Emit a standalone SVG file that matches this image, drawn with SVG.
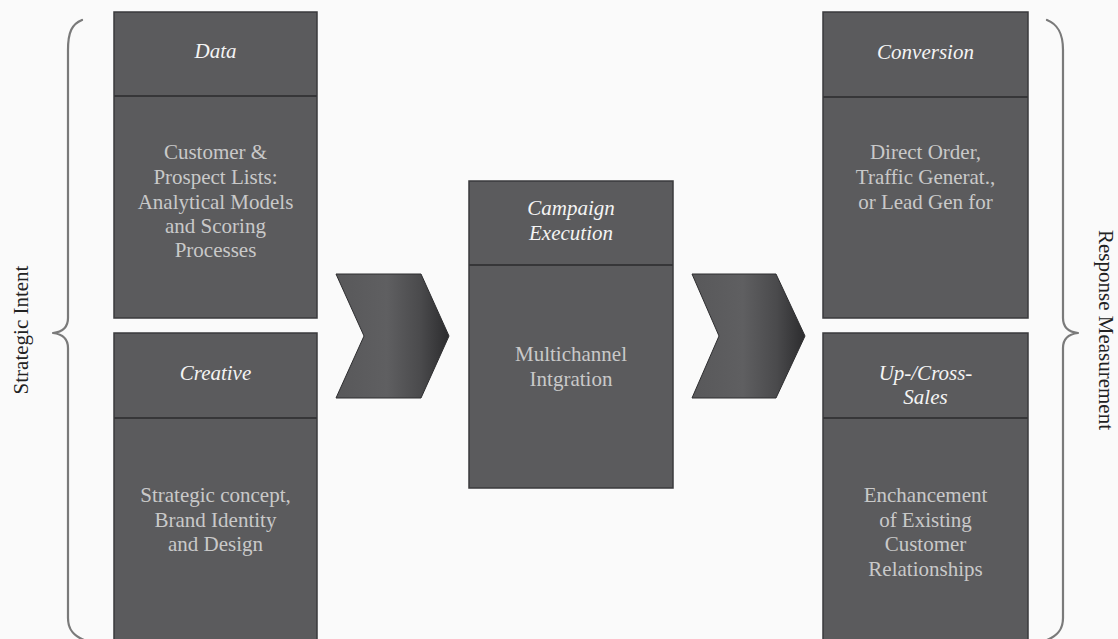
<svg xmlns="http://www.w3.org/2000/svg" width="1118" height="639" viewBox="0 0 1118 639">
  <style>
    .box { fill: #5b5b5d; stroke: #3a3a3c; stroke-width: 1.5; }
    .div { stroke: #363638; stroke-width: 2; }
    .head { font-family: "Liberation Serif", serif; font-style: italic; font-size: 21px; fill: #f4f4f4; text-anchor: middle; }
    .body { font-family: "Liberation Serif", serif; font-size: 21px; fill: #c9c9c9; text-anchor: middle; }
    .side { font-family: "Liberation Serif", serif; font-size: 21px; fill: #222; text-anchor: middle; }
    .brace { fill: none; stroke: #7a7a7a; stroke-width: 2.2; stroke-linecap: round; stroke-linejoin: round; }
    .chev { stroke: #2e2e30; stroke-width: 1; }
  </style>
  <defs>
    <linearGradient id="chevFill" x1="0" y1="0" x2="1" y2="0">
      <stop offset="0" stop-color="#58585a"/>
      <stop offset="0.45" stop-color="#5f5f61"/>
      <stop offset="0.75" stop-color="#4a4a4c"/>
      <stop offset="1" stop-color="#2c2c2e"/>
    </linearGradient>
  </defs>

  <rect x="0" y="0" width="1118" height="639" fill="#fafafa"/>

  <!-- side braces and labels -->
  <g id="strategic-intent">
    <path class="brace" d="M82,20 C72,24 68,32 68,50 L68,318 C68,328 62,332 53,333 C62,334 68,338 68,348 L68,618 C68,630 74,636 84,640"/>
    <text class="side" transform="translate(28,330) rotate(-90)">Strategic Intent</text>
  </g>
  <g id="response-measurement">
    <path class="brace" d="M1047,20 C1057,24 1063,32 1063,50 L1063,318 C1063,328 1069,332 1078,333 C1069,334 1063,338 1063,348 L1063,618 C1063,630 1057,636 1047,640"/>
    <text class="side" transform="translate(1099,330) rotate(90)">Response Measurement</text>
  </g>

  <!-- connectors: chevron arrows -->
  <g id="connectors">
    <polygon class="chev" fill="url(#chevFill)" points="336,274 421,274 449,336 421,398 336,398 364,336"/>
    <polygon class="chev" fill="url(#chevFill)" points="692,274 776,274 805,336 776,398 692,398 719,336"/>
  </g>

  <g id="data">
    <rect class="box" x="114" y="12" width="203" height="306"/>
    <line class="div" x1="114" y1="96" x2="317" y2="96"/>
    <text class="head" x="215.5" y="58">Data</text>
    <text class="body" x="215.5" y="159">Customer &amp;</text>
    <text class="body" x="215.5" y="184">Prospect Lists:</text>
    <text class="body" x="215.5" y="209">Analytical Models</text>
    <text class="body" x="215.5" y="233">and Scoring</text>
    <text class="body" x="215.5" y="257">Processes</text>
  </g>

  <g id="creative">
    <rect class="box" x="114" y="333" width="203" height="312"/>
    <line class="div" x1="114" y1="418" x2="317" y2="418"/>
    <text class="head" x="215.5" y="380">Creative</text>
    <text class="body" x="215.5" y="502">Strategic concept,</text>
    <text class="body" x="215.5" y="527">Brand Identity</text>
    <text class="body" x="215.5" y="551">and Design</text>
  </g>

  <g id="campaign-execution">
    <rect class="box" x="469" y="181" width="204" height="307"/>
    <line class="div" x1="469" y1="265" x2="673" y2="265"/>
    <text class="head" x="571" y="215">Campaign</text>
    <text class="head" x="571" y="240">Execution</text>
    <text class="body" x="571" y="361">Multichannel</text>
    <text class="body" x="571" y="386">Intgration</text>
  </g>

  <g id="conversion">
    <rect class="box" x="823" y="12" width="205" height="306"/>
    <line class="div" x1="823" y1="97" x2="1028" y2="97"/>
    <text class="head" x="925.5" y="59">Conversion</text>
    <text class="body" x="925.5" y="159">Direct Order,</text>
    <text class="body" x="925.5" y="184">Traffic Generat.,</text>
    <text class="body" x="925.5" y="209">or Lead Gen for</text>
  </g>

  <g id="up-cross-sales">
    <rect class="box" x="823" y="333" width="205" height="312"/>
    <line class="div" x1="823" y1="418" x2="1028" y2="418"/>
    <text class="head" x="925.5" y="380">Up-/Cross-</text>
    <text class="head" x="925.5" y="404">Sales</text>
    <text class="body" x="925.5" y="502">Enchancement</text>
    <text class="body" x="925.5" y="527">of Existing</text>
    <text class="body" x="925.5" y="551">Customer</text>
    <text class="body" x="925.5" y="576">Relationships</text>
  </g>
</svg>
